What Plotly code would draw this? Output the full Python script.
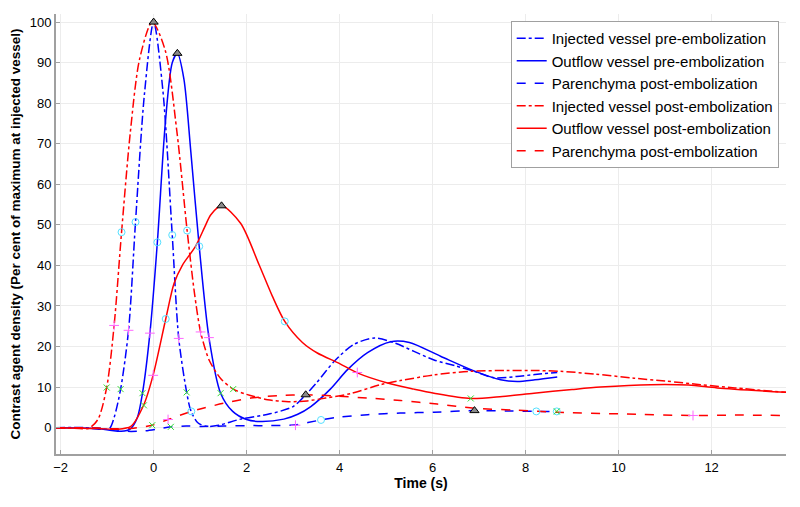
import plotly.graph_objects as go

# ---- data ----
t_inj_pre = [-2.1, -1.5, -1.15, -0.95, -0.85, -0.71, -0.54, -0.39, -0.2, 0.0, 0.2, 0.40, 0.54, 0.71, 0.80, 0.95,
             1.15, 1.4, 1.87, 2.5, 3.0, 3.27, 3.5, 3.88, 4.3, 4.75, 5.2, 5.6, 6.03, 6.5, 6.89, 7.32, 7.8, 8.2, 8.68]
y_inj_pre = [0, 0, -0.4, -0.2, 2.5, 9.5, 24, 50.7, 82, 100, 83, 47.5, 22, 8.7, 4.2, 1.2,
             0.3, 0.6, 2.1, 3.4, 5.2, 8.1, 11, 16.3, 20.5, 22.1, 20.8, 18.8, 16.7, 15.2, 13.9, 12.3, 12.6, 13.1, 13.6]

t_out_pre = [-2.1, -1.2, -0.9, -0.7, -0.5, -0.35, -0.24, -0.08, 0.08, 0.25, 0.4, 0.51, 0.65, 0.8, 0.98, 1.19,
             1.44, 1.7, 2.0, 2.3, 2.8, 3.1, 3.38, 3.8, 4.17, 4.6, 5.1, 5.5, 6.17, 6.89, 7.46, 7.82, 8.2, 8.68]
y_out_pre = [0, -0.2, -0.7, -0.9, -0.3, 2.5, 8.5, 23.3, 45.7, 75, 90, 92.3, 86, 68, 44.7, 22.2,
             8.5, 4.0, 2.0, 1.5, 2.1, 3.3, 5.2, 9.5, 14.3, 18.5, 21.2, 21.0, 17.6, 14.0, 11.8, 11.4, 11.8, 12.5]

t_par_pre = [-2.1, -1.2, -0.9, -0.57, -0.2, 0.1, 0.37, 0.7, 1.0, 1.5, 2.0, 2.5, 3.05, 3.6, 4.0, 4.6, 5.3,
             6.03, 6.9, 7.6, 8.23, 8.67]
y_par_pre = [0, -0.1, -0.4, -0.9, -0.8, -0.3, 0.2, 0.4, 0.3, 0.4, 0.5, 0.5, 0.7, 1.9, 2.6, 3.2, 3.6,
             3.8, 4.2, 4.1, 4.0, 4.0]

t_inj_post = [-2.1, -1.6, -1.4, -1.2, -1.01, -0.85, -0.69, -0.5, -0.3, -0.03, 0.25, 0.5, 0.72, 0.88, 1.01,
              1.2, 1.45, 1.71, 2.0, 2.45, 2.9, 3.3, 3.7, 4.24, 4.88, 5.31, 6.03, 6.82, 7.6, 8.18, 8.75, 9.5,
              10.33, 11.0, 11.76, 12.5, 13.6]
y_inj_post = [0, -0.2, -0.2, 2, 9.9, 25.2, 48.2, 73, 91, 100, 93, 73, 48.6, 33, 23.6,
              16.5, 12, 9.5, 8.2, 6.9, 6.4, 6.6, 7.3, 8.4, 10.6, 11.6, 13.0, 13.9, 14.1, 14.1, 13.9, 13.2,
              12.2, 11.5, 10.6, 9.8, 8.7]

t_out_post = [-2.1, -1.2, -0.8, -0.49, -0.21, -0.01, 0.26, 0.44, 0.62, 0.9, 1.1, 1.23, 1.46, 1.87, 2.27, 2.55,
              2.82, 3.2, 3.52, 4.0, 4.38, 5.03, 5.6, 6.03, 6.82, 7.5, 8.18, 9.0, 9.61, 10.69, 11.5, 12.12, 13.6]
y_out_post = [0, -0.2, -0.4, 0.3, 5.7, 13.0, 26.8, 35.6, 40.1, 44.7, 49.5, 52.5, 54.7, 50.4, 40.1, 32.5,
              26.2, 21, 18.4, 15.8, 13.5, 11, 9.5, 8.5, 7.2, 7.7, 8.5, 9.4, 10.0, 10.6, 10.5, 9.8, 8.7]

t_par_post = [-2.1, -1.2, -0.8, -0.5, -0.03, 0.31, 0.81, 1.0, 1.5, 2.09, 2.7, 3.27, 3.9, 4.6, 5.31, 6.1,
              6.89, 7.8, 8.68, 10.0, 11.6, 12.5, 13.48]
y_par_post = [0, -0.1, -0.3, -0.2, 0.6, 2.0, 4.0, 4.6, 6.0, 7.3, 7.9, 8.1, 7.8, 7.3, 6.7, 5.8,
              4.8, 4.3, 3.8, 3.4, 3.0, 3.1, 3.0]

# feature markers
tri_t = [0.0, 0.51, 1.46, 3.27, 6.9]
tri_y = [100, 92.3, 54.7, 8.1, 4.2]
cir_t = [-0.39, 0.40, -0.69, 0.72, 0.08, 0.98, 0.26, 2.82, 0.81, 3.6, 8.23, 8.67]
cir_y = [50.7, 47.5, 48.2, 48.6, 45.7, 44.7, 26.8, 26.2, 4.0, 1.9, 4.0, 4.0]
plus_t = [-0.85, -0.54, -0.08, 0.54, 1.01, 1.19, -0.01, 0.31, 3.05, 4.38, 11.6]
plus_y = [25.2, 24.0, 23.3, 22.0, 23.6, 22.2, 12.9, 2.0, 0.6, 13.6, 3.0]
x_t = [-1.01, -0.71, -0.24, -0.21, 0.71, 1.44, 1.71, -0.03, 0.37, 6.82, 8.67]
x_y = [9.9, 9.5, 8.5, 5.5, 8.7, 8.5, 9.5, 0.6, 0.2, 7.2, 4.0]

names = ["Injected vessel pre-embolization", "Outflow vessel pre-embolization",
         "Parenchyma post-embolization", "Injected vessel post-embolization",
         "Outflow vessel post-embolization", "Parenchyma post-embolization"]

BLUE = "#0000ff"
RED = "#ff0000"

series = [
    (t_inj_pre, y_inj_pre, BLUE, "dashdot"),
    (t_out_pre, y_out_pre, BLUE, "solid"),
    (t_par_pre, y_par_pre, BLUE, "dash"),
    (t_inj_post, y_inj_post, RED, "dashdot"),
    (t_out_post, y_out_post, RED, "solid"),
    (t_par_post, y_par_post, RED, "dash"),
]

fig = go.Figure()
for (t, y, c, d), n in zip(series, names):
    fig.add_trace(go.Scatter(x=t, y=y, mode="lines", name=n,
                             line=dict(color=c, dash=d, width=1.5, shape="spline", smoothing=0.8)))

fig.add_trace(go.Scatter(x=cir_t, y=cir_y, mode="markers", showlegend=False,
                         marker=dict(symbol="circle-open", size=7, color="#55e0ff", line=dict(width=1))))
fig.add_trace(go.Scatter(x=plus_t, y=plus_y, mode="markers", showlegend=False,
                         marker=dict(symbol="cross-thin-open", size=7, color="#ff66ff", line=dict(width=1, color="#ff66ff"))))
fig.add_trace(go.Scatter(x=x_t, y=x_y, mode="markers", showlegend=False,
                         marker=dict(symbol="x-thin-open", size=6, color="#33dd33", line=dict(width=1, color="#33dd33"))))
fig.add_trace(go.Scatter(x=tri_t, y=tri_y, mode="markers", showlegend=False,
                         marker=dict(symbol="triangle-up", size=8, color="#8a8a8a", line=dict(width=1, color="black"))))

# the page body adds an 8 px offset, so the figure is 8 px smaller on each side
fig.update_layout(
    width=792, height=499,
    margin=dict(l=48, r=14, t=6, b=53),
    paper_bgcolor="white", plot_bgcolor="white",
    font=dict(family="Liberation Sans, Arial, sans-serif", color="black", size=13),
    legend=dict(x=0.990, y=0.984, xanchor="right", yanchor="top",
                bordercolor="#a0a0a0", borderwidth=1, bgcolor="white",
                font=dict(size=15), tracegroupgap=0, itemwidth=30),
    showlegend=True,
)
fig.update_xaxes(range=[-2.1, 13.6], tickvals=[-2, 0, 2, 4, 6, 8, 10, 12],
                 showgrid=True, gridcolor="#ececec", zeroline=False, automargin=False,
                 showline=True, linecolor="#a0a0a0", linewidth=2,
                 ticks="inside", ticklen=4, tickcolor="#a0a0a0",
                 tickfont=dict(size=13),
                 title=dict(text="<b>Time (s)</b>", font=dict(size=14), standoff=4))
fig.update_yaxes(range=[-6.5, 102], tickvals=list(range(0, 101, 10)),
                 showgrid=True, gridcolor="#ececec", zeroline=False, automargin=False,
                 showline=True, linecolor="#a0a0a0", linewidth=2,
                 ticks="inside", ticklen=4, tickcolor="#a0a0a0",
                 tickfont=dict(size=13),
                 title=dict(text="<b>Contrast agent density (Per cent of maximum at injected vessel)</b>",
                            font=dict(size=13.5), standoff=6))

fig.write_html("out.html")
